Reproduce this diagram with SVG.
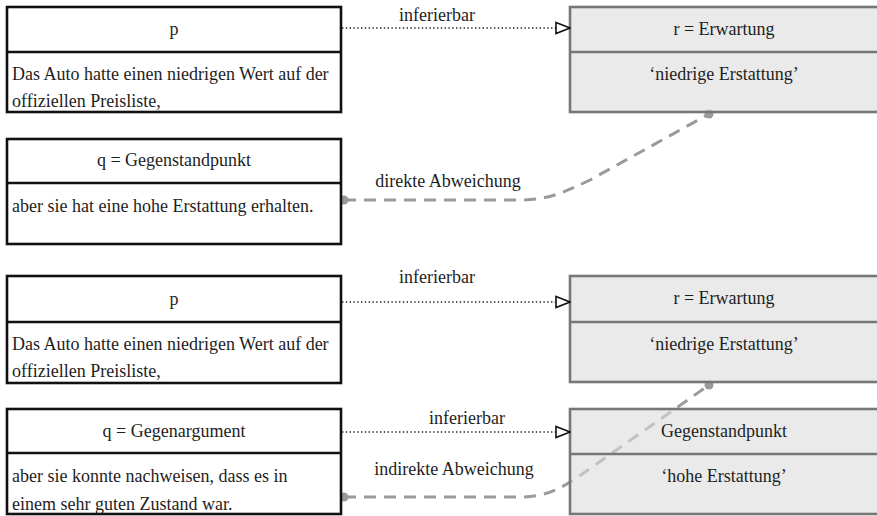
<svg xmlns="http://www.w3.org/2000/svg" width="877" height="516" viewBox="0 0 877 516">
  <defs>
    <marker id="open-tri" viewBox="0 0 16 14" refX="15" refY="7" markerWidth="16" markerHeight="14" markerUnits="userSpaceOnUse" orient="auto">
      <path d="M1,1.5 L15,7 L1,12.5 Z" fill="#fff" stroke="#111" stroke-width="1.6" stroke-linejoin="miter"/>
    </marker>
  </defs>
  <style>
    text { font-family: "Liberation Serif", "DejaVu Serif", serif; font-size: 18px; fill: #1e1e1e; }
    .c { text-anchor: middle; }
    .box-l { fill: #fff; stroke: #111; stroke-width: 2.6; }
    .div-l { stroke: #111; stroke-width: 2.6; }
    .box-r { fill: #dcdcdc; fill-opacity: 0.6; stroke: #777; stroke-width: 2.6; }
    .div-r { stroke: #777; stroke-width: 2.6; }
    .inf { fill: none; stroke: #222; stroke-width: 1.3; stroke-dasharray: 1.4 2.4; marker-end: url(#open-tri); }
    .dev { fill: none; stroke: #9a9a9a; stroke-width: 3; stroke-dasharray: 12 8; }
    .dot { fill: #9a9a9a; }
  </style>

  <rect width="877" height="516" fill="#fff"/>

  <!-- deviation curves sit beneath the boxes -->
  <g id="connectors-dev">
    <path class="dev" d="M344,200 H520 C548,200 565,192 590,180 L709,114"/>
    <path class="dev" d="M344,497 H520 C545,497 560,489 578,477 L709,385"/>
    <circle class="dot" cx="344" cy="200" r="4.5"/>
    <circle class="dot" cx="709" cy="114" r="4.5"/>
    <circle class="dot" cx="344" cy="497" r="4.5"/>
    <circle class="dot" cx="709" cy="385" r="4.5"/>
  </g>

  <!-- upper example -->
  <g id="p1">
    <rect class="box-l" x="7" y="7" width="334" height="105"/>
    <line class="div-l" x1="7" y1="52" x2="341" y2="52"/>
    <text class="c" x="174" y="35">p</text>
    <text x="12" y="80">Das Auto hatte einen niedrigen Wert auf der</text>
    <text x="12" y="107">offiziellen Preisliste,</text>
  </g>
  <g id="r1">
    <rect class="box-r" x="570" y="7" width="320" height="105"/>
    <line class="div-r" x1="570" y1="52" x2="877" y2="52"/>
    <text class="c" x="724" y="35">r = Erwartung</text>
    <text class="c" x="724" y="80">‘niedrige Erstattung’</text>
  </g>
  <g id="q1">
    <rect class="box-l" x="7" y="139" width="334" height="105"/>
    <line class="div-l" x1="7" y1="183" x2="341" y2="183"/>
    <text class="c" x="174" y="166">q = Gegenstandpunkt</text>
    <text x="12" y="212">aber sie hat eine hohe Erstattung erhalten.</text>
  </g>

  <!-- lower example -->
  <g id="p2">
    <rect class="box-l" x="7" y="276" width="334" height="107"/>
    <line class="div-l" x1="7" y1="322" x2="341" y2="322"/>
    <text class="c" x="174" y="305">p</text>
    <text x="12" y="350">Das Auto hatte einen niedrigen Wert auf der</text>
    <text x="12" y="377">offiziellen Preisliste,</text>
  </g>
  <g id="r2">
    <rect class="box-r" x="570" y="276" width="320" height="106"/>
    <line class="div-r" x1="570" y1="322" x2="877" y2="322"/>
    <text class="c" x="724" y="304">r = Erwartung</text>
    <text class="c" x="724" y="350">‘niedrige Erstattung’</text>
  </g>
  <g id="q2">
    <rect class="box-l" x="7" y="409" width="334" height="105"/>
    <line class="div-l" x1="7" y1="453" x2="341" y2="453"/>
    <text class="c" x="174" y="437">q = Gegenargument</text>
    <text x="12" y="482">aber sie konnte nachweisen, dass es in</text>
    <text x="12" y="510">einem sehr guten Zustand war.</text>
  </g>
  <g id="g2">
    <rect class="box-r" x="570" y="409" width="320" height="105"/>
    <line class="div-r" x1="570" y1="454" x2="877" y2="454"/>
    <text class="c" x="724" y="437">Gegenstandpunkt</text>
    <text class="c" x="724" y="482">‘hohe Erstattung’</text>
  </g>

  <!-- inference arrows and connector labels -->
  <g id="connectors">
    <path class="inf" d="M342,28 H570"/>
    <path class="inf" d="M342,302 H570"/>
    <path class="inf" d="M342,432 H570"/>
    <text class="c" x="437" y="21">inferierbar</text>
    <text class="c" x="437" y="283">inferierbar</text>
    <text class="c" x="467" y="424">inferierbar</text>
    <text class="c" x="448" y="187">direkte Abweichung</text>
    <text class="c" x="454" y="475">indirekte Abweichung</text>
  </g>
</svg>
